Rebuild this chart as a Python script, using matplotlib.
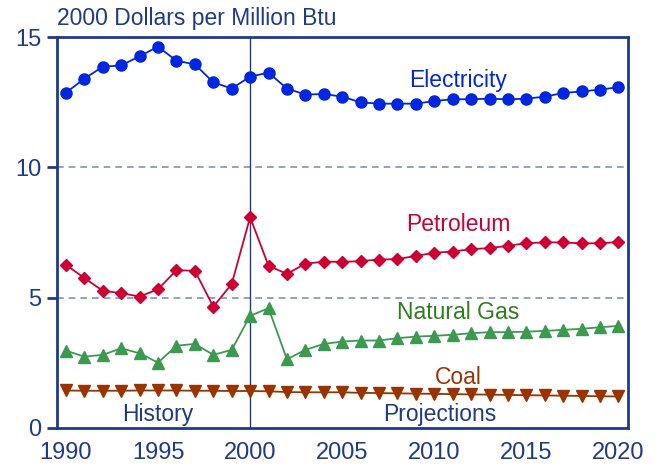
import numpy as np
import matplotlib
matplotlib.use("Agg")
import matplotlib.pyplot as plt

years = list(range(1990, 2021))

electricity = [12.87, 13.41, 13.87, 13.92, 14.27, 14.64, 14.10, 13.96, 13.27, 13.03,
               13.49, 13.64, 13.03, 12.80, 12.82, 12.72, 12.50, 12.45, 12.45, 12.45,
               12.55, 12.62, 12.62, 12.64, 12.62, 12.64, 12.72, 12.86, 12.92, 12.99, 13.08]

petroleum = [6.26, 5.75, 5.26, 5.17, 5.04, 5.32, 6.05, 6.03, 4.65, 5.52,
             8.09, 6.22, 5.91, 6.30, 6.38, 6.37, 6.40, 6.46, 6.48, 6.60,
             6.72, 6.77, 6.86, 6.90, 6.99, 7.09, 7.12, 7.12, 7.08, 7.09, 7.13]

natural_gas = [2.96, 2.73, 2.80, 3.05, 2.86, 2.50, 3.15, 3.22, 2.80, 2.99,
               4.30, 4.59, 2.63, 2.99, 3.22, 3.31, 3.35, 3.35, 3.44, 3.50,
               3.53, 3.57, 3.63, 3.67, 3.67, 3.69, 3.72, 3.76, 3.80, 3.86, 3.91]

coal = [1.43, 1.42, 1.42, 1.42, 1.43, 1.43, 1.43, 1.42, 1.42, 1.41,
        1.41, 1.40, 1.37, 1.36, 1.36, 1.36, 1.34, 1.33, 1.32, 1.31,
        1.30, 1.29, 1.28, 1.27, 1.26, 1.25, 1.24, 1.23, 1.22, 1.21, 1.20]

navy = '#1E3A8A'
c_elec = '#0026E0'
c_pet = '#CC0033'
c_gas = '#3C9A50'
c_coal = '#993300'

plt.rcParams['font.family'] = ['Liberation Sans', 'DejaVu Sans']

fig = plt.figure(figsize=(6.55, 4.65), dpi=100)
ax = fig.add_axes([0.0866, 0.0802, 0.8717, 0.8396])

# grid lines and history/projection divider
for yv in [5, 10]:
    ax.axhline(yv, color='#8090C0', lw=1.2, ls=(0, (4, 3)), zorder=1)
ax.axvline(2000, color=navy, lw=1.0, zorder=1)

ax.plot(years, electricity, color=c_elec, lw=1.3, marker='o', ms=8, zorder=3)
ax.plot(years, petroleum, color=c_pet, lw=1.3, marker='D', ms=6.5, zorder=3)
ax.plot(years, natural_gas, color=c_gas, lw=1.3, marker='^', ms=8.5, zorder=3)
ax.plot(years, coal, color=c_coal, lw=1.3, marker='v', ms=8.5, zorder=3)

fs = 16.5
ax.text(2011.3, 13.35, 'Electricity', color=c_elec, fontsize=fs, ha='center', va='center')
ax.text(2011.3, 7.79, 'Petroleum', color=c_pet, fontsize=fs, ha='center', va='center')
ax.text(2011.3, 4.44, 'Natural Gas', color='#2E7D1E', fontsize=fs, ha='center', va='center')
ax.text(2011.3, 1.92, 'Coal', color=c_coal, fontsize=fs, ha='center', va='center')
ax.text(1995.0, 0.49, 'History', color=navy, fontsize=fs, ha='center', va='center')
ax.text(2010.3, 0.49, 'Projections', color=navy, fontsize=fs, ha='center', va='center')

fig.text(57 / 655, 1 - 18 / 465, '2000 Dollars per Million Btu', color=navy,
         fontsize=fs, ha='left', va='center')

ax.set_xlim(1989.5, 2020.5)
ax.set_ylim(0, 15)
ax.set_xticks([1990, 1995, 2000, 2005, 2010, 2015, 2020])
ax.set_yticks([0, 5, 10, 15])
ax.tick_params(axis='x', length=0, pad=10, labelsize=17, labelcolor=navy)
ax.tick_params(axis='y', length=7, width=2, color=navy, pad=4, labelsize=17, labelcolor=navy)

for s in ax.spines.values():
    s.set_color(navy)
    s.set_linewidth(2)

fig.savefig('out.png', dpi=100)
